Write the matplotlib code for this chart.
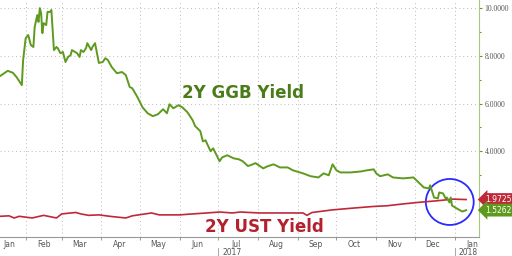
import matplotlib
matplotlib.use("Agg")
import matplotlib.pyplot as plt
import matplotlib.dates as mdates
from matplotlib.patches import Ellipse
import pandas as pd

# 2Y Greek government bond yield
ggb_dates = ["2017-01-12", "2017-01-18", "2017-01-22", "2017-01-25", "2017-01-29", "2017-01-30",
             "2017-02-01", "2017-02-03", "2017-02-05", "2017-02-07", "2017-02-08", "2017-02-10",
             "2017-02-11", "2017-02-12", "2017-02-13", "2017-02-14", "2017-02-15", "2017-02-17",
             "2017-02-18", "2017-02-20", "2017-02-21", "2017-02-23", "2017-02-25", "2017-02-26",
             "2017-02-28", "2017-03-02", "2017-03-04", "2017-03-06", "2017-03-08", "2017-03-09",
             "2017-03-13", "2017-03-15", "2017-03-16", "2017-03-18", "2017-03-20", "2017-03-21",
             "2017-03-24", "2017-03-25", "2017-03-27", "2017-03-30", "2017-04-02", "2017-04-04",
             "2017-04-06", "2017-04-09", "2017-04-13", "2017-04-17", "2017-04-20", "2017-04-23",
             "2017-04-25", "2017-04-29", "2017-05-03", "2017-05-07", "2017-05-11", "2017-05-15",
             "2017-05-19", "2017-05-22", "2017-05-24", "2017-05-27", "2017-05-31", "2017-06-03",
             "2017-06-07", "2017-06-11", "2017-06-13", "2017-06-17", "2017-06-19", "2017-06-21",
             "2017-06-25", "2017-06-27", "2017-07-02", "2017-07-04", "2017-07-08", "2017-07-13",
             "2017-07-17", "2017-07-20", "2017-07-24", "2017-07-26", "2017-07-30", "2017-08-05",
             "2017-08-08", "2017-08-13", "2017-08-18", "2017-08-24", "2017-08-28", "2017-09-05",
             "2017-09-11", "2017-09-17", "2017-09-21", "2017-09-25", "2017-09-28", "2017-10-01",
             "2017-10-04", "2017-10-12", "2017-10-20", "2017-10-25", "2017-10-30", "2017-11-01",
             "2017-11-04", "2017-11-10", "2017-11-14", "2017-11-22", "2017-11-30", "2017-12-04",
             "2017-12-08", "2017-12-12", "2017-12-13", "2017-12-16", "2017-12-19", "2017-12-20",
             "2017-12-23", "2017-12-25", "2017-12-26", "2017-12-28", "2017-12-29", "2017-12-30",
             "2018-01-03", "2018-01-07", "2018-01-10"]
ggb_values = [7.15, 7.37, 7.29, 7.10, 6.77, 7.82,
              8.74, 8.87, 8.45, 8.37, 9.20, 9.71,
              9.42, 10.0, 9.79, 8.95, 9.37, 9.29,
              9.84, 9.84, 9.92, 8.24, 8.37, 8.32,
              8.11, 8.16, 7.74, 7.95, 8.03, 8.24,
              8.11, 7.95, 8.24, 8.16, 8.32, 8.53,
              8.24, 8.37, 8.53, 7.70, 7.74, 7.90,
              7.82, 7.53, 7.27, 7.32, 7.19, 6.69,
              6.64, 6.27, 5.84, 5.59, 5.47, 5.55,
              5.76, 5.59, 5.97, 5.80, 5.93, 5.84,
              5.63, 5.30, 5.05, 4.84, 4.41, 4.46,
              4.00, 4.12, 3.58, 3.74, 3.83, 3.70,
              3.66, 3.58, 3.38, 3.41, 3.50, 3.28,
              3.36, 3.45, 3.32, 3.32, 3.20, 3.07,
              2.95, 2.90, 3.07, 2.99, 3.45, 3.20,
              3.11, 3.11, 3.15, 3.20, 3.24, 3.07,
              2.95, 3.03, 2.90, 2.86, 2.90, 2.69,
              2.48, 2.44, 2.57, 2.06, 2.02, 2.27,
              2.23, 2.02, 2.06, 1.85, 2.06, 1.72,
              1.59, 1.47, 1.5262]

# 2Y US Treasury yield
ust_dates = ["2017-01-12", "2017-01-19", "2017-01-23", "2017-01-27", "2017-02-06", "2017-02-15",
             "2017-02-25", "2017-03-01", "2017-03-12", "2017-03-16", "2017-03-22", "2017-03-30",
             "2017-04-09", "2017-04-20", "2017-04-25", "2017-05-10", "2017-05-16", "2017-06-01",
             "2017-06-11", "2017-06-22", "2017-07-02", "2017-07-12", "2017-07-18", "2017-08-02",
             "2017-08-18", "2017-09-05", "2017-09-08", "2017-09-12", "2017-09-28", "2017-10-13",
             "2017-10-29", "2017-11-09", "2017-11-22", "2017-12-05", "2017-12-18", "2017-12-31",
             "2018-01-10"]
ust_values = [1.27, 1.29, 1.20, 1.27, 1.20, 1.31,
              1.20, 1.37, 1.43, 1.37, 1.31, 1.33,
              1.26, 1.20, 1.29, 1.41, 1.33, 1.33,
              1.37, 1.41, 1.45, 1.41, 1.45, 1.41,
              1.41, 1.41, 1.31, 1.43, 1.54, 1.61,
              1.68, 1.71, 1.79, 1.86, 1.92, 1.99,
              1.9725]

y_ticks = [4, 6, 8, 10]
month_label_dates = ["2017-01-19", "2017-02-15", "2017-03-15", "2017-04-15", "2017-05-15",
                     "2017-06-15", "2017-07-15", "2017-08-15", "2017-09-15", "2017-10-15",
                     "2017-11-15", "2017-12-15", "2018-01-15"]
month_names = ["Jan", "Feb", "Mar", "Apr", "May", "Jun", "Jul", "Aug", "Sep", "Oct", "Nov", "Dec", "Jan"]

green = "#5e9a1e"
red = "#c0283a"
grey = "#555555"

fig = plt.figure(figsize=(5.12, 2.56), dpi=100)
ax = fig.add_axes([0.0, 0.074, 0.9355, 0.926])

ax.plot(pd.to_datetime(ust_dates), ust_values, color=red, lw=1.2)
ax.plot(pd.to_datetime(ggb_dates), ggb_values, color=green, lw=1.4)

ax.set_xlim(pd.Timestamp("2017-01-12"), pd.Timestamp("2018-01-20"))
ax.set_ylim(0.40, 10.34)

ax.yaxis.tick_right()
ax.set_yticks(y_ticks)
ax.set_yticks([3, 5, 7, 9], minor=True)
ax.set_yticklabels(["%.4f" % v for v in y_ticks], family="Liberation Serif", fontsize=5.5, color=grey)
ax.tick_params(axis="y", which="both", direction="out", length=2.5, width=0.8, colors=green, pad=1.5)
ax.tick_params(axis="y", which="both", labelcolor=grey)
ax.tick_params(axis="y", which="minor", length=1.5)

ax.xaxis.set_major_locator(mdates.MonthLocator())
ax.xaxis.set_major_formatter(plt.NullFormatter())
ax.set_xticks(pd.to_datetime(month_label_dates), minor=True)
ax.set_xticklabels(month_names, minor=True)
ax.tick_params(axis="x", which="major", length=2.5, width=0.6, color="#888888")
ax.tick_params(axis="x", which="minor", length=0, labelsize=5.5, labelcolor=grey, pad=2)

ax.grid(True, which="major", color="#bbbbbb", ls=(0, (1, 3)), lw=0.7)
ax.set_axisbelow(True)

for s in ["top", "left"]:
    ax.spines[s].set_visible(False)
ax.spines["right"].set_color("#a8c880")
ax.spines["bottom"].set_color("#999999")
ax.spines["bottom"].set_linewidth(0.8)

# year labels under the month axis
for yr in ["2017-07-01", "2018-01-01"]:
    xd = mdates.date2num(pd.Timestamp(yr))
    ax.plot([xd, xd], [-0.045, -0.085], color="#999999", lw=0.6,
            transform=ax.get_xaxis_transform(), clip_on=False)
    ax.text(xd + 3, -0.065, yr[:4], transform=ax.get_xaxis_transform(),
            fontsize=5.5, color=grey, va="center", ha="left")

ax.text(pd.Timestamp("2017-06-03"), 6.45, "2Y GGB Yield", color="#4a7d1a",
        fontsize=12, fontweight="bold", va="center")
ax.text(pd.Timestamp("2017-08-06"), 0.82, "2Y UST Yield", color="#b3202e",
        fontsize=12, fontweight="bold", va="center", ha="center")

# circle around the crossover
ax.add_patch(Ellipse((0.939, 0.148), 0.1, 0.194, transform=ax.transAxes,
                     fill=False, ec="#2a2aff", lw=1.3))

# last value tags
ax.annotate("1.9725", xy=(1.012, ust_values[-1]), xycoords=("axes fraction", "data"),
            fontsize=5.5, color="white", va="center", ha="left", annotation_clip=False,
            bbox=dict(boxstyle="larrow,pad=0.25", fc=red, ec="none"))
ax.annotate("1.5262", xy=(1.012, 1.53), xycoords=("axes fraction", "data"),
            fontsize=5.5, color="white", va="center", ha="left", annotation_clip=False,
            bbox=dict(boxstyle="larrow,pad=0.25", fc=green, ec="none"))

fig.savefig("out.png", dpi=100)
